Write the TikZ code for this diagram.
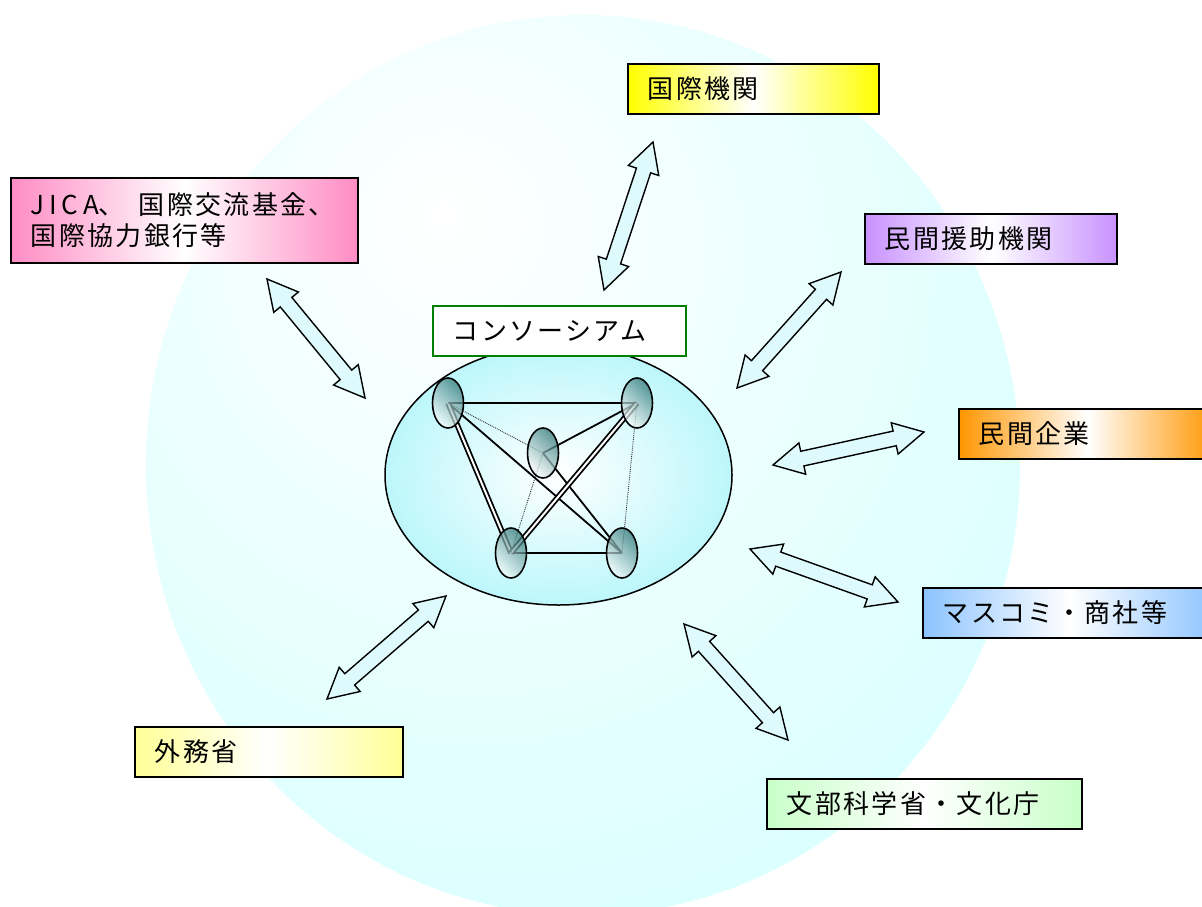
\documentclass[tikz,border=0pt]{standalone}
\usepackage{fontspec}
\newfontfamily\jp[LetterSpace=9]{Noto Sans CJK JP}
\newfontfamily\jpls[LetterSpace=18]{Noto Sans CJK JP}
\usetikzlibrary{calc,shapes.geometric}
\definecolor{bigout}{RGB}{204,255,255}
\definecolor{bigmid}{RGB}{232,255,255}
\definecolor{conout}{RGB}{188,247,251}
\definecolor{nodedark}{RGB}{45,115,115}
\definecolor{nodelight}{RGB}{248,252,252}
\definecolor{arrfill}{RGB}{222,250,252}
\definecolor{cyel}{RGB}{255,255,0}
\definecolor{cpink}{RGB}{255,140,196}
\definecolor{cpurple}{RGB}{200,145,255}
\definecolor{corange}{RGB}{255,150,0}
\definecolor{cblue}{RGB}{140,195,255}
\definecolor{clyel}{RGB}{255,255,150}
\definecolor{cgreen}{RGB}{200,255,200}
\definecolor{cbord}{RGB}{0,128,0}
\pgfdeclareradialshading{bigglow}{\pgfpoint{-8bp}{14bp}}{color(0bp)=(white); color(22bp)=(bigmid); color(52bp)=(bigout); color(100bp)=(bigout)}
\pgfdeclarelayer{back}
\pgfdeclarelayer{mid}
\pgfsetlayers{back,mid,main}
\newcommand\blockarrow[2]{%
  \coordinate (#1-h) at ($(#1)!30pt!(#2)$);
  \coordinate (#2-h) at ($(#2)!30pt!(#1)$);
  \draw[barrow] (#1) -- ($(#1-h)!16pt!90:(#2)$) -- ($(#1-h)!7.5pt!90:(#2)$)
    -- ($(#2-h)!7.5pt!-90:(#1)$) -- ($(#2-h)!16pt!-90:(#1)$) -- (#2)
    -- ($(#2-h)!16pt!90:(#1)$) -- ($(#2-h)!7.5pt!90:(#1)$)
    -- ($(#1-h)!7.5pt!-90:(#2)$) -- ($(#1-h)!16pt!-90:(#2)$) -- cycle;}
\tikzset{
  box/.style={draw=black, line width=1.8pt, anchor=north west, inner xsep=20pt,
    inner ysep=0pt, align=left, font=\jp\fontsize{26}{31}\selectfont},
  grad/.style={left color=#1, right color=#1, middle color=white},
  ell/.style={ellipse, draw=black, line width=1.6pt, minimum width=31pt, minimum height=50pt,
    inner sep=0pt, top color=nodedark, bottom color=nodelight, shading angle=-45, fill opacity=0.72},
  solidl/.style={line width=1.8pt, black},
  doublel/.style={line width=1.8pt, double=white, double distance=2pt, black},
  dotl/.style={line width=0.9pt, densely dotted, black!80},
  barrow/.style={draw=black, line width=1.4pt, fill=arrfill, line join=miter}
}
\begin{document}
\begin{tikzpicture}[x=1pt,y=-1pt]
\useasboundingbox (0,0) rectangle (1202,906);
\begin{pgfonlayer}{back}
  \fill[white] (0,0) rectangle (1202,906);
  \shade[shading=bigglow] (583,465) ellipse [x radius=437, y radius=450];
  \shadedraw[draw=black, line width=1.5pt, inner color=white, outer color=conout]
    (558.5,475) ellipse [x radius=173.5, y radius=130];
\end{pgfonlayer}

% member nodes
\node[ell] (tl) at (448,403) {};
\node[ell] (tr) at (637,403) {};
\node[ell] (md) at (543,453) {};
\node[ell] (bl) at (511,553) {};
\node[ell] (br) at (622,553) {};

\begin{pgfonlayer}{mid}
  \draw[solidl] (tl.center) -- (tr.center);
  \draw[solidl] (bl.center) -- (br.center);
  \draw[solidl] (tl.center) -- (br.center);
  \draw[solidl] (md.center) -- (tr.center);
  \draw[solidl] (md.center) -- (br.center);
  \draw[doublel] (tl.center) -- (bl.center);
  \draw[doublel] (tr.center) -- (bl.center);
  \draw[dotl] (tl.center) -- (md.center);
  \draw[dotl] (md.center) -- (bl.center);
  \draw[dotl] (tr.center) -- (br.center);
\end{pgfonlayer}

% consortium label
\node[box, draw=cbord, line width=1.6pt, fill=white, text width=213pt, minimum height=50pt]
  (cons) at (432,305) {コンソーシアム};

% outer boxes
\node[box, grad=cyel, text width=211pt, minimum height=50pt] (kokusai) at (627,63) {国際機関};
\node[box, grad=cpink, text width=307pt, minimum height=85pt]
  (jica) at (10,177) {{\jpls JICA}、\hspace{14pt}国際交流基金、\\国際協力銀行等};
\node[box, grad=cpurple, text width=212pt, minimum height=50pt] (minkan) at (864,213) {民間援助機関};
\node[box, grad=corange, text width=217pt, minimum height=50pt] (kigyo) at (958,408) {民間企業};
\node[box, grad=cblue, text width=253pt, minimum height=50pt] (masukomi) at (922,587) {マスコミ・商社等};
\node[box, grad=clyel, text width=228pt, minimum height=50pt] (gaimu) at (134,726) {外務省};
\node[box, grad=cgreen, text width=275pt, minimum height=50pt] (monbu) at (766,778) {文部科学省・文化庁};

% block arrows
\coordinate (a1s) at (653,142); \coordinate (a1e) at (604,290);
\coordinate (a2s) at (267,279); \coordinate (a2e) at (365,398);
\coordinate (a3s) at (841,272); \coordinate (a3e) at (737,388);
\coordinate (a4s) at (924,432); \coordinate (a4e) at (773,465);
\coordinate (a5s) at (750,549); \coordinate (a5e) at (898,602);
\coordinate (a6s) at (684,624); \coordinate (a6e) at (788,740);
\coordinate (a7s) at (446,596); \coordinate (a7e) at (327,699);
\blockarrow{a1s}{a1e}
\blockarrow{a2s}{a2e}
\blockarrow{a3s}{a3e}
\blockarrow{a4s}{a4e}
\blockarrow{a5s}{a5e}
\blockarrow{a6s}{a6e}
\blockarrow{a7s}{a7e}
\end{tikzpicture}
\end{document}
